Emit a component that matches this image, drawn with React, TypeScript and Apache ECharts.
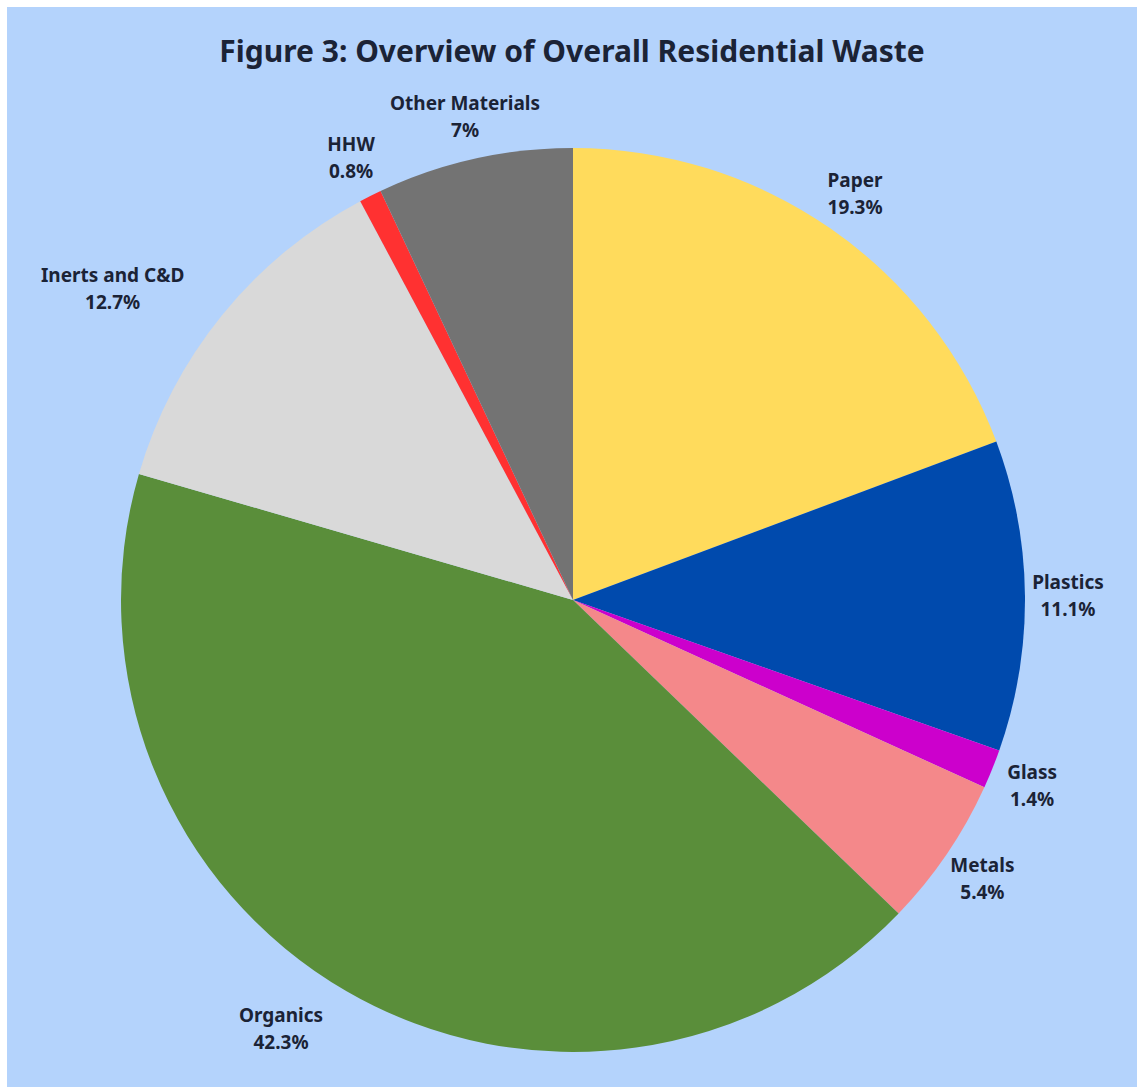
import React, { useEffect, useRef } from "react";
import * as echarts from "echarts";

const categories = ["Paper", "Plastics", "Glass", "Metals", "Organics", "Inerts and C&D", "HHW", "Other Materials"];
const shares = [19.3, 11.1, 1.4, 5.4, 42.3, 12.7, 0.8, 7];
const colors = ["#FFDB5C", "#004AAD", "#CC00CC", "#F4888A", "#5A8E3A", "#D9D9D9", "#FF3131", "#737373"];
const titleText = "Figure 3: Overview of Overall Residential Waste";

const TEXT = "#1B2336";
const FONT = "'Noto Sans', 'Open Sans', sans-serif";

export default function App() {
  const ref = useRef<HTMLDivElement>(null);
  useEffect(() => {
    if (!ref.current) return;
    const chart = echarts.init(ref.current, undefined, { renderer: "svg" });
    const data = categories.map((name, i) => ({ name, value: shares[i], itemStyle: { color: colors[i] } }));
    const labelData = categories.map((name, i) => ({ name, value: shares[i] }));
    chart.setOption({
      animation: false,
      backgroundColor: "#B4D3FC",
      title: {
        text: titleText,
        left: "center",
        top: 23,
        textStyle: { fontFamily: FONT, fontWeight: "bold", fontSize: 30, color: TEXT },
      },
      series: [
        {
          type: "pie",
          center: [566, 593],
          radius: [0, 452],
          startAngle: 90,
          clockwise: true,
          silent: true,
          label: { show: false },
          labelLine: { show: false },
          itemStyle: { borderWidth: 0 },
          data,
        },
        {
          type: "pie",
          center: [566, 593],
          radius: [472, 512],
          startAngle: 90,
          clockwise: true,
          silent: true,
          itemStyle: { color: "transparent", borderWidth: 0 },
          labelLine: { show: false },
          label: {
            show: true,
            position: "inside",
            rotate: 0,
            formatter: (p: any) => `${p.name}\n${p.value}%`,
            fontFamily: FONT,
            fontWeight: "bold",
            fontSize: 19,
            lineHeight: 27,
            color: TEXT,
            align: "center",
          },
          labelLayout: (p: any) => {
            if (p.dataIndex === 4) return { dx: -44 };
            if (p.dataIndex === 5) return { dx: -76 };
            return {};
          },
          data: labelData,
        },
      ],
    });
    return () => chart.dispose();
  }, []);
  return (
    <div style={{ position: "fixed", left: 0, top: 0, width: 1137, height: 1087, background: "#ffffff" }}>
      <div ref={ref} style={{ position: "absolute", left: 7, top: 7, width: 1130, height: 1080 }} />
    </div>
  );
}
